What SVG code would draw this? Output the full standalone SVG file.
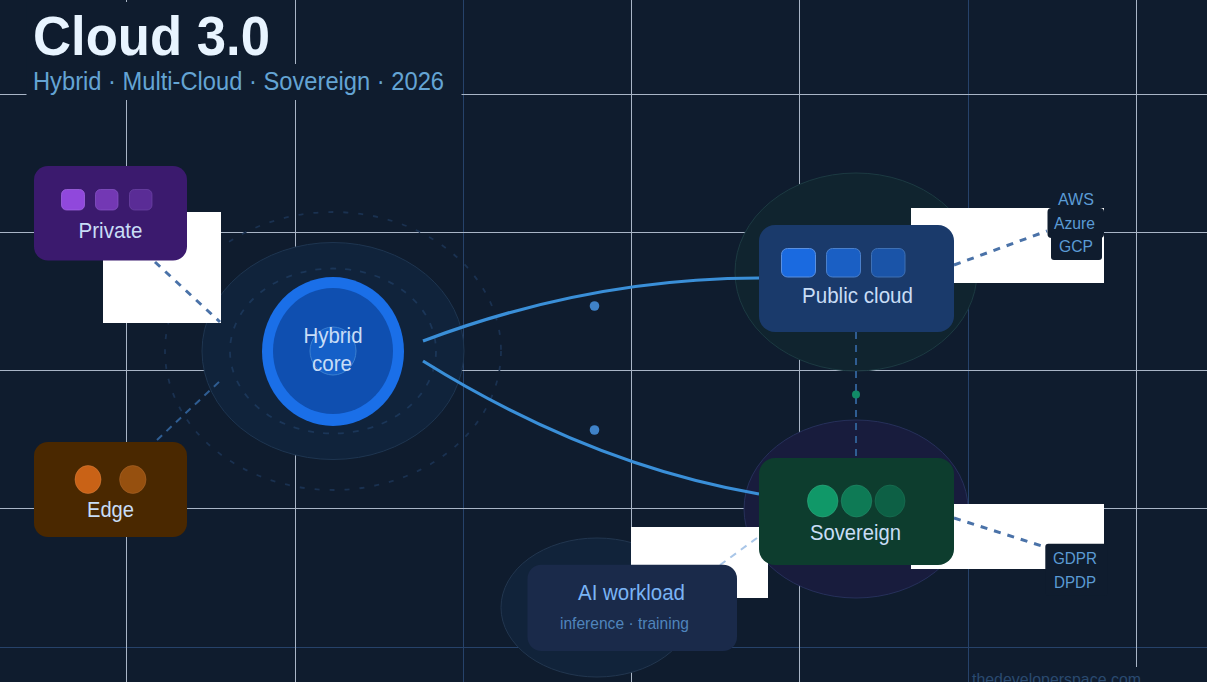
<svg xmlns="http://www.w3.org/2000/svg" width="1207" height="682" viewBox="0 0 1207 682">
<style>
text{font-family:"Liberation Sans",Arial,sans-serif;text-anchor:middle}
.bg{fill:#0f1c2e}
.gl{stroke:#a9b5c6;stroke-width:1;fill:none}
.gd{stroke:#26426a;stroke-width:1;fill:none}
.white{fill:#fff}
.dash{stroke:#4a72a8;stroke-width:3;stroke-dasharray:7 7;fill:none}
.dash2{stroke:#2f5d92;stroke-width:2;stroke-dasharray:7 6;fill:none}
.curve{stroke:#3a8fd8;stroke-width:3.200;fill:none}
.lbl{font-size:22px;fill:#c8ddf6}
.tag{font-size:17px;fill:#5b9bd5}
.tagbg{fill:#0f1c2e}
.st{text-anchor:start}
</style>
<rect class="bg" width="1207" height="682"/>
<g id="grid">
<path class="gd" d="M463.500 0V682M968.500 0V682M0 647.500H1207"/>
<path class="gl" d="M126.500 0V682M295.500 0V682M631.500 0V682M799.500 0V682M1136.500 0V682M0 94.500H1207M0 232.500H1207M0 370.500H1207M0 508.500H1207"/>
</g>
<g id="title-backing">
<rect class="bg" x="26.500" y="2" width="250.500" height="62"/>
<rect class="bg" x="26.500" y="64" width="435" height="36"/>
<rect class="bg" x="969" y="667" width="172" height="15"/>
</g>
<g id="halos">
<ellipse cx="333" cy="351" rx="168" ry="139" fill="none" stroke="#1a3150" stroke-width="1.800" stroke-dasharray="5 10"/>
<ellipse cx="333" cy="351" rx="131" ry="108.500" fill="#10233b" stroke="#1e3550"/>
<ellipse cx="333" cy="351" rx="103" ry="82.500" fill="none" stroke="#1b3658" stroke-width="1.800" stroke-dasharray="6 9"/>
<ellipse cx="856" cy="272" rx="121" ry="99" fill="#10242f" stroke="#1c3a42"/>
<ellipse cx="856" cy="509" rx="112" ry="89" fill="#181c3d" stroke="#26305a"/>
<ellipse cx="597" cy="607.500" rx="96" ry="69.500" fill="#11233a" stroke="#22364f"/>
</g>
<g id="connector-panels">
<rect class="white" x="103" y="212" width="118" height="111"/>
<rect class="white" x="911" y="208" width="193" height="75"/>
<rect class="white" x="911" y="504" width="193" height="65"/>
<rect class="white" x="631" y="527" width="137" height="71"/>
</g>
<g id="connectors">
<path class="dash" d="M155 262L220 322"/>
<path class="dash" d="M954 265L1047 231"/>
<path class="dash" d="M954 518L1045 547"/>
<path class="dash2" d="M157 440L221 380"/>
<path class="dash2" d="M856 332V458"/>
<path class="dash2" style="stroke:#a9c6e8" d="M757 538L720 565"/>
<path class="curve" d="M423 341Q590 278 759 278"/>
<path class="curve" d="M423 361Q590 465 759 494"/>
<circle cx="594.500" cy="306" r="4.800" fill="#3f82c8"/>
<circle cx="594.500" cy="430" r="4.800" fill="#3f82c8"/>
<circle cx="856" cy="394.500" r="4" fill="#118a66"/>
</g>
<g id="hybrid-core">
<ellipse cx="333" cy="351.500" rx="71" ry="74.500" fill="#1a6fe8"/>
<ellipse cx="333" cy="351" rx="60" ry="63" fill="#0f4fb0"/>
<ellipse cx="333" cy="351" rx="23" ry="24" fill="#1560c8" stroke="#3a7fd0"/>
<text class="lbl" x="333" y="343" textLength="59" lengthAdjust="spacingAndGlyphs">Hybrid</text>
<text class="lbl" x="332" y="371" textLength="40" lengthAdjust="spacingAndGlyphs">core</text>
</g>
<g id="private">
<rect x="34" y="166" width="153" height="94.500" rx="14" fill="#3b1a6e"/>
<rect x="61.500" y="189.500" width="23" height="20.500" rx="5" fill="#9048dc" stroke="#a86ce8" stroke-width="0.700"/>
<rect x="95.500" y="189.500" width="22.500" height="20.500" rx="5" fill="#7338b4" stroke="#8a58c8" stroke-width="0.700"/>
<rect x="129.500" y="189.500" width="22.500" height="20.500" rx="5" fill="#5a2c96" stroke="#6e46a8" stroke-width="0.700"/>
<text class="lbl" x="110.500" y="238" textLength="64" lengthAdjust="spacingAndGlyphs">Private</text>
</g>
<g id="edge">
<rect x="34" y="442" width="153" height="95" rx="14" fill="#4a2800"/>
<ellipse cx="88" cy="479.500" rx="13" ry="14" fill="#c96216" stroke="#d88040" stroke-width="0.500"/>
<ellipse cx="132.800" cy="479.500" rx="13.200" ry="14" fill="#96500f" stroke="#b06a2e" stroke-width="0.500"/>
<text class="lbl" x="110.500" y="517" textLength="47" lengthAdjust="spacingAndGlyphs">Edge</text>
</g>
<g id="public-cloud">
<rect x="759" y="225" width="195" height="107" rx="16" fill="#1a3a6b"/>
<rect x="781.500" y="248.500" width="34" height="28.500" rx="6" fill="#1a6ae0" stroke="#5a90e0"/>
<rect x="826.500" y="248.500" width="34" height="28.500" rx="6" fill="#1a5fc4" stroke="#4a80cc"/>
<rect x="871.500" y="248.500" width="33.500" height="28.500" rx="6" fill="#1a54a8" stroke="#3e70b4"/>
<text class="lbl" x="857.500" y="303" textLength="111" lengthAdjust="spacingAndGlyphs">Public cloud</text>
</g>
<g id="sovereign">
<rect x="759" y="458" width="195" height="107" rx="16" fill="#0d3d2e"/>
<ellipse cx="822.700" cy="501" rx="15.300" ry="16" fill="#109868" stroke="#3aae86" stroke-width="0.500"/>
<ellipse cx="856.500" cy="501" rx="15.300" ry="16" fill="#0e7a55" stroke="#2a9070" stroke-width="0.500"/>
<ellipse cx="890" cy="501" rx="15" ry="16" fill="#0d6045" stroke="#207a5c" stroke-width="0.500"/>
<text class="lbl" x="855.500" y="540" textLength="91" lengthAdjust="spacingAndGlyphs">Sovereign</text>
</g>
<g id="ai-workload">
<rect x="527.500" y="564.700" width="209.500" height="86.300" rx="14" fill="#1a2a4a"/>
<text x="631.500" y="600" font-size="22" fill="#7ab4f5" textLength="107" lengthAdjust="spacingAndGlyphs">AI workload</text>
<text x="624.500" y="629" font-size="17" fill="#4f84bc" textLength="129" lengthAdjust="spacingAndGlyphs">inference · training</text>
</g>
<g id="public-tags">
<rect class="tagbg" x="1047.500" y="208" width="56.500" height="30" rx="4"/>
<rect class="tagbg" x="1051" y="232" width="51" height="28" rx="3"/>
<text class="tag" x="1076" y="205" textLength="36" lengthAdjust="spacingAndGlyphs">AWS</text>
<text class="tag" x="1074.500" y="229" textLength="41" lengthAdjust="spacingAndGlyphs">Azure</text>
<text class="tag" x="1076" y="252" textLength="34" lengthAdjust="spacingAndGlyphs">GCP</text>
</g>
<g id="sovereign-tags">
<rect class="tagbg" x="1045.300" y="543.700" width="62" height="52" rx="3"/>
<text class="tag" x="1075" y="564" textLength="44" lengthAdjust="spacingAndGlyphs">GDPR</text>
<text class="tag" x="1075" y="588" textLength="42" lengthAdjust="spacingAndGlyphs">DPDP</text>
</g>
<g id="heading">
<text class="st" x="33" y="55" font-size="56" font-weight="700" fill="#e8f4ff" textLength="237" lengthAdjust="spacingAndGlyphs">Cloud 3.0</text>
<text class="st" x="33" y="90" font-size="25.500" fill="#64a4d4" textLength="411" lengthAdjust="spacingAndGlyphs">Hybrid · Multi-Cloud · Sovereign · 2026</text>
<text class="st" x="972" y="685" font-size="17" fill="#2a4a70" textLength="169" lengthAdjust="spacingAndGlyphs">thedeveloperspace.com</text>
</g>
</svg>
